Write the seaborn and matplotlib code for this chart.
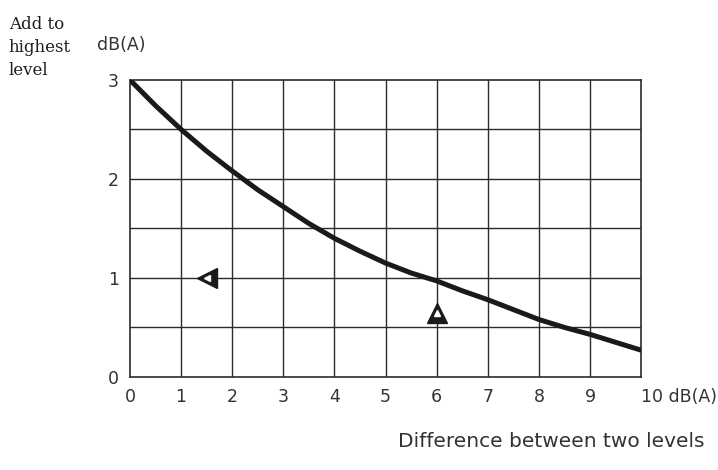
import numpy as np
import pandas as pd
import matplotlib
matplotlib.use("Agg")
import matplotlib.pyplot as plt
import seaborn as sns

# values (every half step)
level_diff = [0, 0.5, 1, 1.5, 2, 2.5, 3, 3.5, 4, 4.5, 5,
              5.5, 6, 6.5, 7, 7.5, 8, 8.5, 9, 9.5, 10]
add_to_high = [3.0, 2.74, 2.5, 2.28, 2.08, 1.89, 1.72, 1.55, 1.4, 1.27, 1.15,
               1.05, 0.97, 0.87, 0.78, 0.68, 0.58, 0.5, 0.43, 0.35, 0.27]
x_ticks = [0, 1, 2, 3, 4, 5, 6, 7, 8, 9, 10]
x_labels = ["0", "1", "2", "3", "4", "5", "6", "7", "8", "9", "10 dB(A)"]
y_ticks = [0, 1, 2, 3]
y_grid = [0.5, 1.0, 1.5, 2.0, 2.5]

# arrow heads marking the example reading (diff 6 -> add ~1)
arrow_x = [1.5, 6.0]
arrow_y = [1.0, 0.65]
arrow_mark = ["<", "^"]

df = pd.DataFrame({"diff": level_diff, "add": add_to_high})

sns.set_style("white")
ink = "#2b2b2b"

fig = plt.figure(figsize=(7.18, 4.70), dpi=100)
ax = fig.add_axes([0.181, 0.198, 0.712, 0.632])

# grid
for xv in x_ticks[1:-1]:
    ax.axvline(xv, color=ink, lw=1.0, zorder=1)
for yv in y_grid:
    ax.axhline(yv, color=ink, lw=1.0, zorder=1)

sns.lineplot(data=df, x="diff", y="add", ax=ax, color="#1a1a1a", lw=3.6,
             zorder=3, solid_joinstyle="round", solid_capstyle="round")

for xa, ya, m in zip(arrow_x, arrow_y, arrow_mark):
    ax.plot(xa, ya, marker=m, ms=14, color="#1a1a1a", mfc="#1a1a1a", zorder=4)
    ax.plot(xa, ya, marker=m, ms=4, color="white", mec="white", zorder=5)

ax.set_xlim(0, 10)
ax.set_ylim(0, 3)
for s in ax.spines.values():
    s.set_color(ink)
    s.set_linewidth(1.2)

ax.set_xticks(x_ticks)
ax.set_xticklabels(x_labels, fontsize=12.5, color="#333333")
ax.set_yticks(y_ticks)
ax.set_yticklabels([str(v) for v in y_ticks], fontsize=12.5, color="#333333")
ax.tick_params(axis="both", length=0, pad=8)
ax.get_xticklabels()[-1].set_horizontalalignment("left")
ax.get_xticklabels()[-1].set_x(9.85)
ax.set_xlabel("")
ax.set_ylabel("")

fig.text(0.012, 0.965, "Add to\nhighest\nlevel", ha="left", va="top",
         fontsize=12, family="DejaVu Serif", color="#1e1e1e",
         linespacing=1.45)
fig.text(0.135, 0.905, "dB(A)", ha="left", va="center", fontsize=12.5, color="#333333")
fig.text(0.555, 0.06, "Difference between two levels", ha="left", va="center",
         fontsize=14.5, color="#333333")

fig.savefig("out.png", dpi=100)
